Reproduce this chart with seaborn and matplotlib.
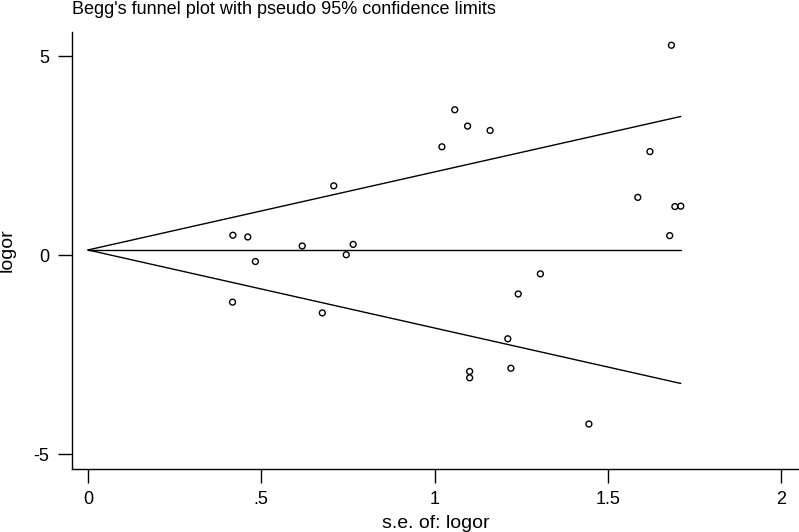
import matplotlib
matplotlib.use("Agg")
import matplotlib.pyplot as plt
import seaborn as sns
import numpy as np
import pandas as pd

# Study standard errors and log odds ratios
se_logor = [0.418, 0.461, 0.483, 0.618, 0.709, 0.745, 0.765, 0.417, 0.676,
            1.021, 1.058, 1.095, 1.160, 1.101, 1.101, 1.211, 1.220, 1.241,
            1.305, 1.445, 1.586, 1.621, 1.678, 1.683, 1.693, 1.710]
logor = [0.50, 0.456, -0.16, 0.23, 1.74, 0.01, 0.27, -1.18, -1.45,
         2.72, 3.65, 3.24, 3.13, -2.92, -3.08, -2.10, -2.84, -0.975,
         -0.47, -4.24, 1.45, 2.60, 0.49, 5.27, 1.22, 1.23]
pooled_logor = 0.13
se_max = 1.71
z95 = 1.96

x_ticks = [0, 0.5, 1, 1.5, 2]
x_ticklabels = ["0", ".5", "1", "1.5", "2"]
y_ticks = [-5, 0, 5]
y_ticklabels = ["-5", "0", "5"]

sns.set_style("white")
plt.rcParams["font.family"] = ["Liberation Sans", "DejaVu Sans"]

fig = plt.figure(figsize=(7.99, 5.32), dpi=100)
ax = fig.add_axes([0.0897, 0.1184, 1.0 - 0.0897, 0.9404 - 0.1184])

df = pd.DataFrame({"se": se_logor, "logor": logor})
se_line = np.array([0.0, se_max])
lines = pd.DataFrame({
    "se": np.concatenate([se_line, se_line, se_line]),
    "val": np.concatenate([pooled_logor + z95 * se_line,
                           np.full(2, pooled_logor),
                           pooled_logor - z95 * se_line]),
    "grp": ["upper"] * 2 + ["mid"] * 2 + ["lower"] * 2,
})
sns.lineplot(data=lines, x="se", y="val", units="grp", estimator=None,
             color="black", linewidth=1.0, ax=ax, legend=False)
sns.scatterplot(data=df, x="se", y="logor", ax=ax, s=18, marker="o",
                facecolors="none", edgecolor="black", linewidth=1.0,
                legend=False, zorder=3)

ax.set_xlim(-0.047, 2.051)
ax.set_ylim(-5.37, 5.61)
ax.set_xticks(x_ticks)
ax.set_xticklabels(x_ticklabels)
ax.set_yticks(y_ticks)
ax.set_yticklabels(y_ticklabels)
ax.tick_params(axis="both", direction="out", length=10, width=1.0,
               color="black", labelsize=13, labelcolor="black", pad=6,
               left=True, bottom=True)
for side in ["top", "right"]:
    ax.spines[side].set_visible(False)
for side in ["left", "bottom"]:
    ax.spines[side].set_color("black")
    ax.spines[side].set_linewidth(1.0)

ax.set_xlabel("s.e. of: logor", fontsize=14, color="black")
ax.set_ylabel("logor", fontsize=14, color="black")
ax.xaxis.set_label_coords(0.5, -0.106)
ax.yaxis.set_label_coords(-0.077, 0.5)
ax.set_title("Begg's funnel plot with pseudo 95% confidence limits",
             loc="left", fontsize=13, color="black", pad=12.5)
ax.title.set_position((0.0, 1.0))

fig.savefig("out.png", dpi=100, facecolor="white")
